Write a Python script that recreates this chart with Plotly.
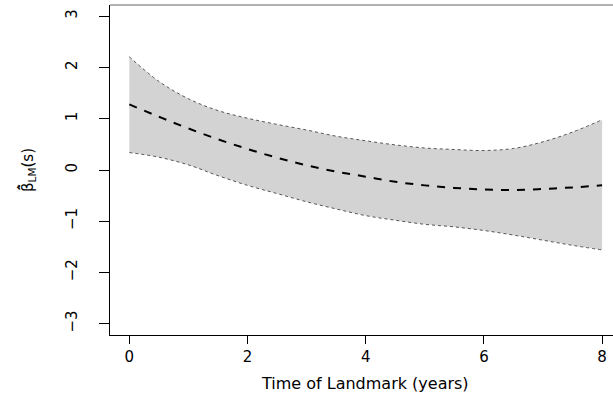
import plotly.graph_objects as go

# Data
time_years = [0, 0.5, 1.0, 1.5, 2.0, 2.5, 3.0, 3.5, 4.0, 4.5, 5.0, 5.5, 6.0, 6.5, 7.0, 7.5, 8.0]
beta_est = [1.28, 1.04, 0.81, 0.60, 0.41, 0.24, 0.09, -0.03, -0.13, -0.23, -0.30, -0.35, -0.38, -0.39, -0.37, -0.34, -0.30]
beta_upper = [2.21, 1.73, 1.39, 1.16, 1.01, 0.89, 0.78, 0.66, 0.57, 0.49, 0.43, 0.40, 0.38, 0.42, 0.55, 0.74, 0.98]
beta_lower = [0.34, 0.25, 0.10, -0.11, -0.30, -0.46, -0.62, -0.76, -0.89, -0.98, -1.06, -1.11, -1.18, -1.27, -1.37, -1.47, -1.56]
x_ticks = [0, 2, 4, 6, 8]
y_ticks = [-3, -2, -1, 0, 1, 2, 3]

FONT = "DejaVu Sans"

fig = go.Figure()

# lower bound (dotted) then upper bound filled down to it
fig.add_trace(go.Scatter(
    x=time_years, y=beta_lower, mode="lines", line_shape="spline",
    line=dict(color="#555555", width=1, dash="3px,3px"), showlegend=False,
))
fig.add_trace(go.Scatter(
    x=time_years, y=beta_upper, mode="lines", line_shape="spline",
    fill="tonexty", fillcolor="#d3d3d3",
    line=dict(color="#555555", width=1, dash="3px,3px"), showlegend=False,
))
fig.add_trace(go.Scatter(
    x=time_years, y=beta_est, mode="lines", line_shape="spline",
    line=dict(color="black", width=2, dash="8px,8px"), showlegend=False,
))

fig.update_layout(
    width=618, height=400,
    margin=dict(l=110, r=0, t=5, b=65),
    plot_bgcolor="white", paper_bgcolor="white",
    font=dict(family=FONT, color="black"),
    xaxis=dict(
        range=[-0.327, 8.269], tickvals=x_ticks, ticktext=[str(v) for v in x_ticks],
        showgrid=False, zeroline=False, showline=True, linecolor="black", linewidth=1,
        ticks="outside", ticklen=8, tickcolor="black", tickwidth=1,
        tickfont=dict(size=15, family=FONT), ticklabelstandoff=0,
        ticklabeloverflow="allow",
    ),
    yaxis=dict(
        range=[-3.22, 3.22], tickvals=y_ticks, ticktext=[("−" + str(-v)) if v < 0 else str(v) for v in y_ticks],
        showgrid=False, zeroline=False, showline=True, linecolor="black", linewidth=1,
        ticks="outside", ticklen=10, tickcolor="black", tickwidth=1,
        tickangle=-90, tickfont=dict(size=15, family=FONT), ticklabelstandoff=16,
    ),
    shapes=[dict(type="line", xref="paper", yref="paper", x0=0, x1=1, y0=1, y1=1,
                 line=dict(color="#666666", width=1))],
    annotations=[
        dict(text="Time of Landmark (years)", xref="paper", yref="paper",
             x=(365 - 110) / 508, y=(335 - 383) / 330, xanchor="center", yanchor="middle",
             showarrow=False, font=dict(size=16, family=FONT)),
        dict(text="β\u0302\u0303<sub>LM</sub>(s)", xref="paper", yref="paper",
             x=(27 - 110) / 508, y=0.5, xanchor="center", yanchor="middle", textangle=-90,
             showarrow=False, font=dict(size=15, family=FONT)),
    ],
)

fig.write_html("out.html", config={"displayModeBar": False},
               post_script="document.body.style.margin='0';document.body.style.overflow='hidden';")
